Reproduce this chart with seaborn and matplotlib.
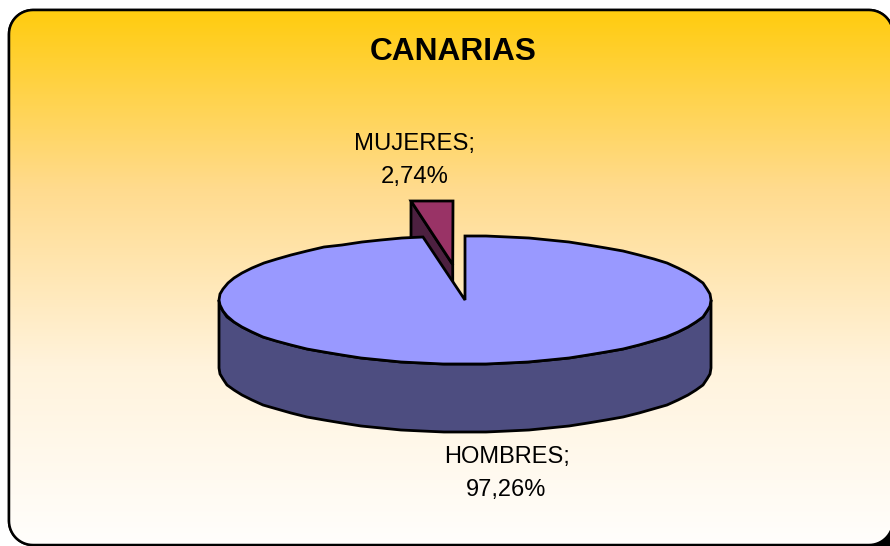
import numpy as np
import matplotlib
matplotlib.use("Agg")
import matplotlib.pyplot as plt
from matplotlib.patches import Polygon, Rectangle
import seaborn as sns

categories = ["HOMBRES", "MUJERES"]
values = [97.26, 2.74]
title = "CANARIAS"

sns.set_theme(style="white")
plt.rcParams['font.family'] = ['Liberation Sans', 'DejaVu Sans']

W, H = 890, 546
fig = plt.figure(figsize=(W / 100, H / 100), dpi=100)
ax = fig.add_axes([0, 0, 1, 1])
ax.set_xlim(0, W)
ax.set_ylim(H, 0)
ax.axis("off")


def rounded(x0, y0, x1, y1, r):
    q = np.linspace(0, np.pi / 2, 16)
    tl = np.column_stack([x0 + r - r * np.cos(q), y0 + r - r * np.sin(q)])
    tr = np.column_stack([x1 - r + r * np.sin(q), y0 + r - r * np.cos(q)])
    br = np.column_stack([x1 - r + r * np.cos(q), y1 - r + r * np.sin(q)])
    bl = np.column_stack([x0 + r - r * np.sin(q), y1 - r + r * np.cos(q)])
    return np.vstack([tl, tr, br, bl])


# black corner bottom right, behind the frame
ax.add_patch(Rectangle((860, 520), 30, 26, fc="black", ec="none", zorder=0))

# background gradient inside rounded frame
cmap = sns.blend_palette(["#ffcc0f", "#ffdb8e", "#fff3dc", "#fffefc"], as_cmap=True)
grad = np.linspace(0, 1, 256).reshape(-1, 1)
frame = Polygon(rounded(9, 10, 893, 545, 24), closed=True, fc="white", ec="black", lw=1.8, zorder=1)
ax.add_patch(frame)
img = ax.imshow(grad, cmap=cmap, extent=[9, 893, 545, 10], aspect="auto", zorder=1.5)
img.set_clip_path(frame)
edge = Polygon(rounded(9, 10, 893, 545, 24), closed=True, fc="none", ec="black", lw=1.8, zorder=1.6)
ax.add_patch(edge)
ax.set_xlim(0, W)
ax.set_ylim(H, 0)

# pie geometry
cx, cy = 465, 300
a, b = 246, 64
depth = 68
k = 0.58


def ell(t, ox=0, oy=0):
    # t clockwise from 12 o'clock, snapped to pixels like the original
    return np.round(np.column_stack([ox + cx + a * np.sin(t), oy + cy - b * np.cos(t)]))


ends = np.cumsum(values) / sum(values) * 2 * np.pi
men_end, wom_end = ends

# exploded slice, drawn first so the big one hides it
mid = (men_end + wom_end) / 2
ox = k * a * np.sin(mid)
oy = -k * b * np.cos(mid) + 1.5
arc = ell(np.linspace(men_end, wom_end, 2), ox, oy)
arc[:, 1] = arc[:, 1].max()
apex = np.array([cx + ox, cy + oy])
side = np.array([arc[0], apex, apex + [0, depth], arc[0] + [0, depth]])
ax.add_patch(Polygon(side, fc="#4d2040", ec="black", lw=2, zorder=2))
ax.add_patch(Polygon(np.vstack([apex, arc]), fc="#993366", ec="black", lw=2, zorder=3))

# big slice: front wall then top
t_front = np.linspace(np.pi / 2, 3 * np.pi / 2, 37)
front = ell(t_front)
wall = np.vstack([front, (front + [0, depth])[::-1]])
ax.add_patch(Polygon(wall, fc="#4d4d80", ec="black", lw=2, zorder=4))
rim = ell(np.linspace(0, men_end, 71))
ax.add_patch(Polygon(np.vstack([[cx, cy], rim]), fc="#9999ff", ec="black", lw=2, zorder=5))

# labels
def lab(i):
    return f"{categories[i]};\n" + f"{values[i]:.2f}%".replace(".", ",")


ax.text(506.5, 473.5, lab(0), ha="center", va="center", fontsize=17.05, color="black",
        linespacing=1.6, zorder=6)
ax.text(415, 160.5, lab(1), ha="center", va="center", fontsize=17.2, color="black",
        linespacing=1.63, zorder=6)
ax.text(453, 52, title, ha="center", va="center", fontsize=22.8, fontweight="bold",
        color="black", zorder=6)

fig.savefig("out.png", dpi=100)
